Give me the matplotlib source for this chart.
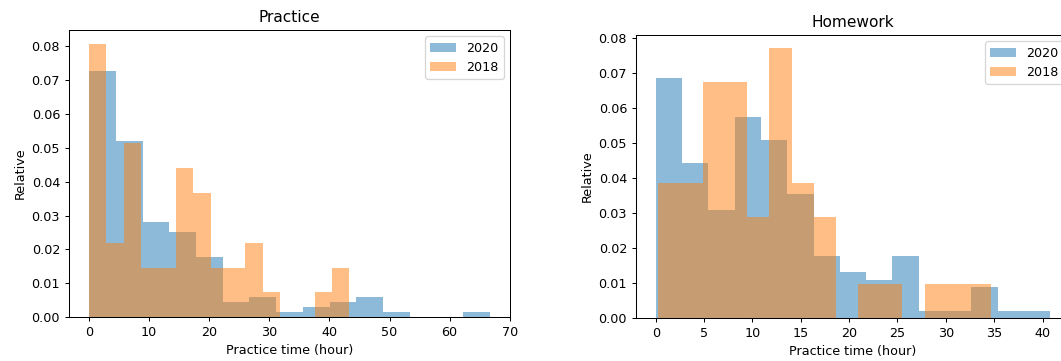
import matplotlib
matplotlib.use('Agg')
import matplotlib.pyplot as plt
import numpy as np

# relative frequency per bin (15 bins each)
years = ['2020', '2018']

practice_range_2020 = (0.0, 66.7)
practice_2020 = [0.0726, 0.0519, 0.0280, 0.0252, 0.0176, 0.0043, 0.0058, 0.0014,
                 0.0029, 0.0043, 0.0058, 0.0014, 0.0, 0.0, 0.0014]
practice_range_2018 = (0.0, 43.3)
practice_2018 = [0.0808, 0.0219, 0.0513, 0.0146, 0.0146, 0.0439, 0.0366, 0.0146,
                 0.0146, 0.0219, 0.0073, 0.0, 0.0, 0.0073, 0.0146]

homework_range_2020 = (0.0, 40.8)
homework_2020 = [0.0687, 0.0442, 0.0309, 0.0576, 0.0509, 0.0354, 0.0176, 0.0132,
                 0.0110, 0.0176, 0.0021, 0.0021, 0.0088, 0.0021, 0.0021]
homework_range_2018 = (0.27, 34.7)
homework_2018 = [0.0385, 0.0385, 0.0674, 0.0674, 0.0288, 0.0771, 0.0385, 0.0288,
                 0.0, 0.0096, 0.0096, 0.0, 0.0096, 0.0096, 0.0096]

dpi = 92
fig = plt.figure(figsize=(1061 / dpi, 361 / dpi), dpi=dpi)
W, H = 1061.0, 361.0

def draw(ax, rng_a, vals_a, rng_b, vals_b, title):
    for rng, vals, lab in [(rng_a, vals_a, years[0]), (rng_b, vals_b, years[1])]:
        edges = np.linspace(rng[0], rng[1], len(vals) + 1)
        ax.hist(edges[:-1], bins=edges, weights=vals, alpha=0.5, label=lab)
    ax.set_title(title)
    ax.set_xlabel('Practice time (hour)')
    ax.set_ylabel('Relative')
    ax.legend(loc='upper right')

# axes boxes in pixels: left, right, top, bottom
ax1 = fig.add_axes([69 / W, 1 - 317 / H, (510 - 69) / W, (317 - 30) / H])
draw(ax1, practice_range_2020, practice_2020, practice_range_2018, practice_2018, 'Practice')

ax2 = fig.add_axes([636 / W, 1 - 318 / H, (1070 - 636) / W, (318 - 35) / H])
draw(ax2, homework_range_2020, homework_2020, homework_range_2018, homework_2018, 'Homework')

fig.savefig('out.png', dpi=dpi)
